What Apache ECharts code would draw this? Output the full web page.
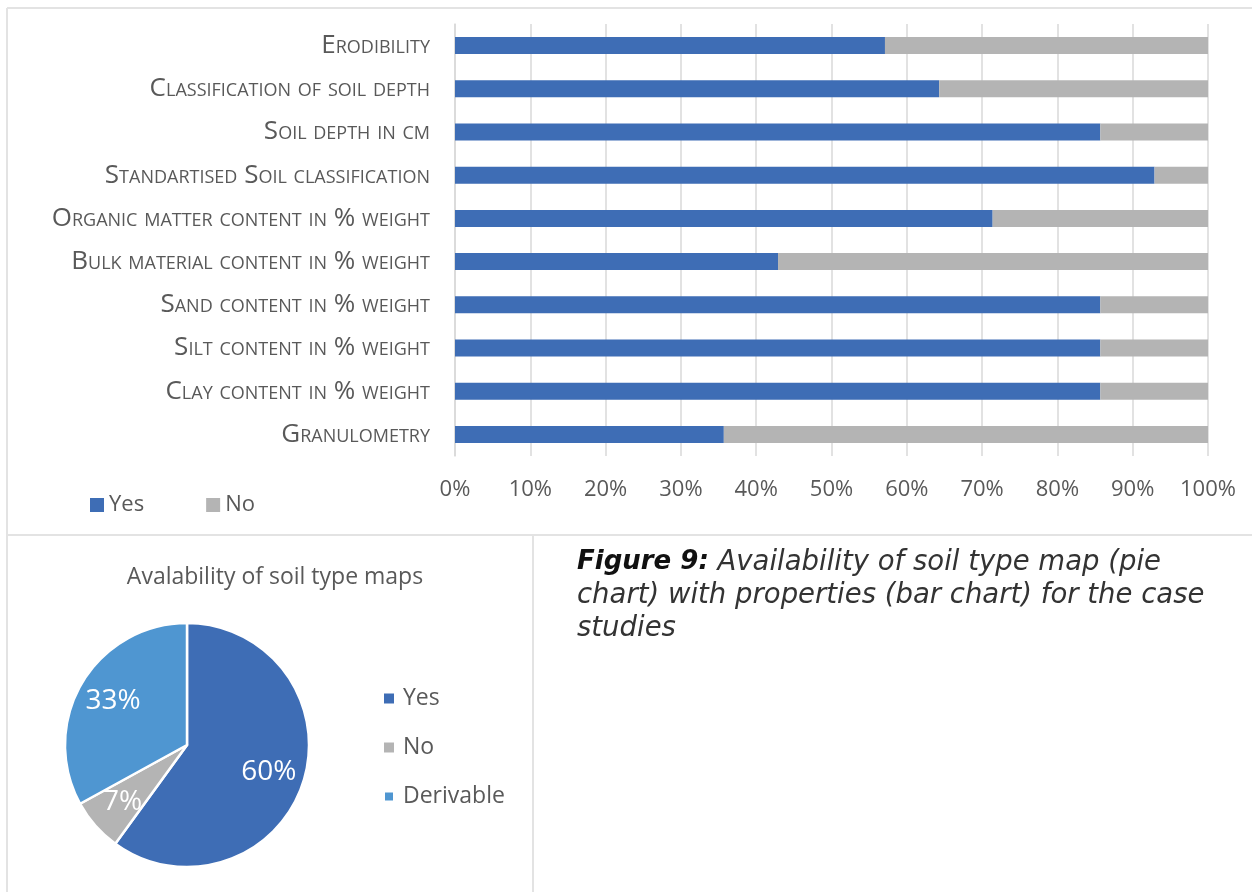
<!DOCTYPE html>
<html>
<head>
<meta charset="utf-8">
<script src="https://cdn.jsdelivr.net/npm/echarts@6/dist/echarts.min.js"></script>
<style>
  html, body { margin: 0; padding: 0; background: #fff; }
  #main { width: 1252px; height: 892px; }
</style>
</head>
<body>
<div id="main"></div>
<script>
// soil properties, top to bottom as in the figure
var categories = [
  'Erodibility',
  'Classification of soil depth',
  'Soil depth in cm',
  'Standartised Soil classification',
  'Organic matter content in % weight',
  'Bulk material content in % weight',
  'Sand content in % weight',
  'Silt content in % weight',
  'Clay content in % weight',
  'Granulometry'
];
var yesValues = [57.1, 64.3, 85.7, 92.9, 71.4, 42.9, 85.7, 85.7, 85.7, 35.7];
var noValues = [42.9, 35.7, 14.3, 7.1, 28.6, 57.1, 14.3, 14.3, 14.3, 64.3];
var xTicks = [0, 10, 20, 30, 40, 50, 60, 70, 80, 90, 100];

var pieNames = ['Yes', 'No', 'Derivable'];
var pieValues = [60, 7, 33];

var BLUE = '#3e6db5';
var GREY = '#b4b4b4';
var LIGHTBLUE = '#4f96d1';
var TEXT = '#595959';
var FONT = '"Open Sans", "Noto Sans", sans-serif';
var CAPTION_FONT = '"DejaVu Sans", sans-serif';

var myChart = echarts.init(document.getElementById('main'));

var option = {
  animation: false,
  backgroundColor: '#fff',
  textStyle: { fontFamily: FONT },
  title: [{
    text: 'Avalability of soil type maps',
    left: 270,
    top: 561,
    textAlign: 'center',
    textStyle: { color: TEXT, fontSize: 23, fontWeight: 'normal', fontFamily: FONT }
  }, {
    text: '{b|Figure 9:}{i| Availability of soil type map (pie}\n{i|chart) with properties (bar chart) for the case}\n{i|studies}',
    left: 572,
    top: 541,
    textStyle: {
      rich: {
        b: { fontSize: 26, fontStyle: 'italic', fontWeight: 'bold', color: '#111', fontFamily: CAPTION_FONT, lineHeight: 33 },
        i: { fontSize: 27.5, fontStyle: 'italic', fontWeight: 'normal', color: '#333', fontFamily: CAPTION_FONT, lineHeight: 33 }
      }
    }
  }],
  legend: [{
    data: ['Yes', 'No'],
    left: 85,
    top: 489,
    itemGap: 62,
    itemWidth: 14,
    itemHeight: 14,
    icon: 'rect',
    textStyle: { color: TEXT, fontSize: 22, fontFamily: FONT }
  }, {
    data: pieNames,
    orient: 'vertical',
    left: 378,
    top: 682,
    itemGap: 26,
    itemWidth: 10,
    itemHeight: 10,
    icon: 'rect',
    textStyle: { color: TEXT, fontSize: 23, fontFamily: FONT, padding: [0, 0, 0, 4] }
  }],
  grid: { left: 455, right: 44, top: 24, bottom: 436, containLabel: false },
  xAxis: {
    type: 'value',
    min: 0,
    max: 100,
    interval: 10,
    axisLine: { show: false },
    axisTick: { show: false },
    splitLine: { lineStyle: { color: '#d9d9d9', width: 1.5 } },
    axisLabel: {
      margin: 23,
      color: TEXT,
      fontSize: 22,
      fontFamily: FONT,
      formatter: function (v) { return xTicks.indexOf(v) >= 0 ? v + '%' : ''; }
    }
  },
  yAxis: {
    type: 'category',
    inverse: true,
    data: categories,
    axisLine: { show: true, lineStyle: { color: '#d9d9d9', width: 1.5 } },
    axisTick: { show: false },
    axisLabel: {
      margin: 25,
      color: TEXT,
      fontSize: 26,
      fontStyle: 'small-caps',
      fontFamily: FONT
    }
  },
  series: [{
    name: 'Yes',
    type: 'bar',
    stack: 'total',
    barWidth: 17,
    itemStyle: { color: BLUE },
    data: yesValues
  }, {
    name: 'No',
    type: 'bar',
    stack: 'total',
    barWidth: 17,
    itemStyle: { color: GREY },
    data: noValues
  }, {
    name: 'Soil type maps',
    type: 'pie',
    center: [187, 745],
    radius: [0, 122],
    startAngle: 90,
    clockwise: true,
    label: { show: false },
    labelLine: { show: false },
    itemStyle: { borderColor: '#fff', borderWidth: 2.5 },
    color: [BLUE, GREY, LIGHTBLUE],
    data: pieNames.map(function (n, i) { return { name: n, value: pieValues[i] }; })
  }, {
    // label carrier: places the percentages further out than the default inside position
    name: 'Soil type map labels',
    type: 'pie',
    center: [187, 745],
    radius: [44, 122],
    startAngle: 90,
    clockwise: true,
    silent: true,
    itemStyle: { color: 'rgba(0,0,0,0)' },
    label: {
      show: true,
      position: 'inside',
      color: '#fff',
      fontSize: 28,
      fontFamily: FONT,
      formatter: '{d}%'
    },
    labelLine: { show: false },
    data: pieNames.map(function (n, i) { return { name: n, value: pieValues[i] }; })
  }],
  graphic: [
    { type: 'line', shape: { x1: 7, y1: 8, x2: 1252, y2: 8 }, style: { stroke: '#e3e3e3', lineWidth: 2 } },
    { type: 'line', shape: { x1: 7, y1: 8, x2: 7, y2: 892 }, style: { stroke: '#e3e3e3', lineWidth: 2 } },
    { type: 'line', shape: { x1: 7, y1: 535, x2: 1252, y2: 535 }, style: { stroke: '#e3e3e3', lineWidth: 2 } },
    { type: 'line', shape: { x1: 533, y1: 535, x2: 533, y2: 892 }, style: { stroke: '#e3e3e3', lineWidth: 2 } }
  ]
};

myChart.setOption(option);
</script>
</body>
</html>
